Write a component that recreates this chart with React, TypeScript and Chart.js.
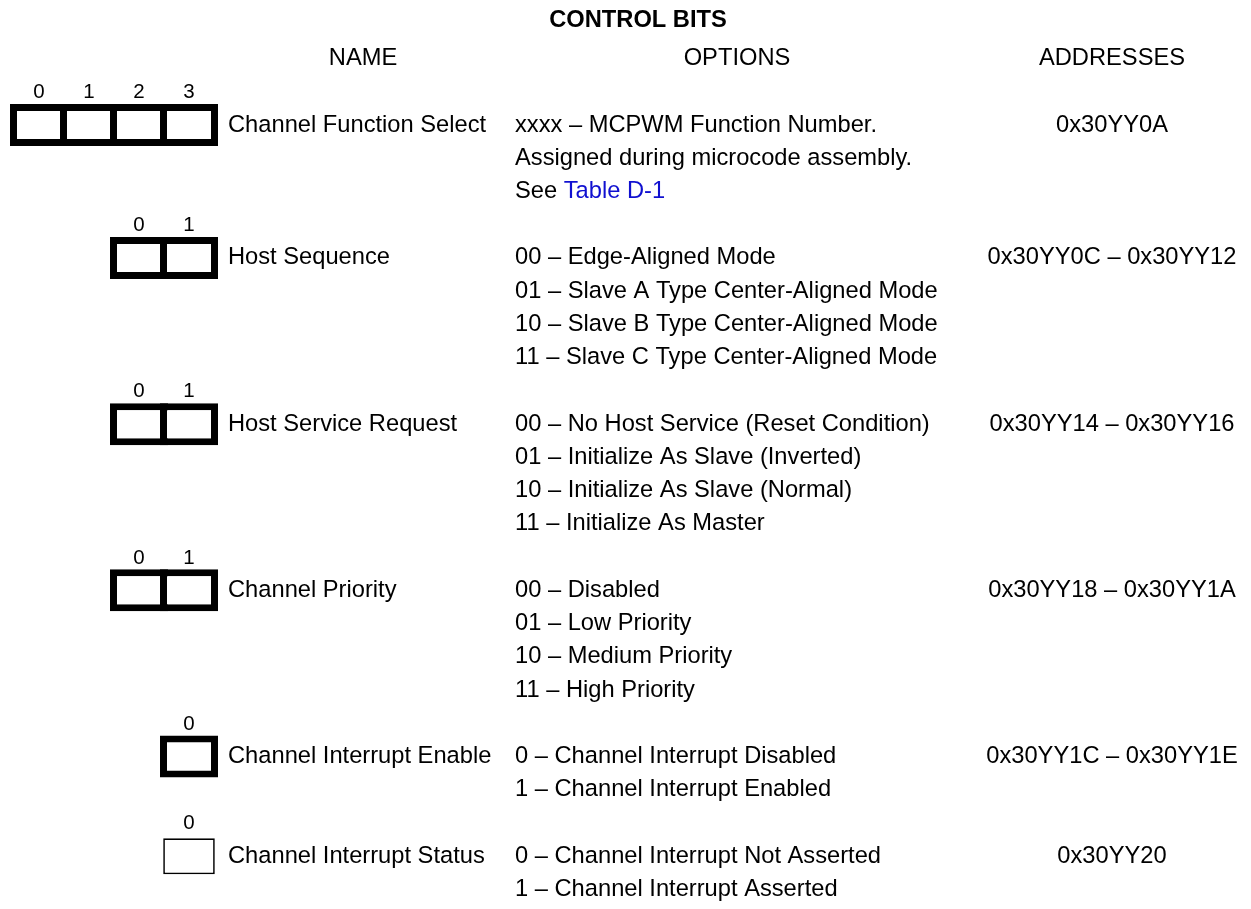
import React, { useEffect, useRef } from 'react';
import { Chart, registerables } from 'chart.js';

Chart.register(...registerables);

// ---------------- data ----------------
const chartTitle = 'CONTROL BITS';
const columnHeaders = ['NAME', 'OPTIONS', 'ADDRESSES'];

const fieldNames = [
  'Channel Function Select',
  'Host Sequence',
  'Host Service Request',
  'Channel Priority',
  'Channel Interrupt Enable',
  'Channel Interrupt Status',
];

const fieldBitCounts = [4, 2, 2, 2, 1, 1];

// host-writable fields are drawn with a heavy frame, read-only with a light one
const fieldHostWritable = [true, true, true, true, true, false];

const fieldOptions = [
  ['xxxx – MCPWM Function Number.', 'Assigned during microcode assembly.', 'See Table D-1'],
  [
    '00 – Edge-Aligned Mode',
    '01 – Slave A Type Center-Aligned Mode',
    '10 – Slave B Type Center-Aligned Mode',
    '11 – Slave C Type Center-Aligned Mode',
  ],
  [
    '00 – No Host Service (Reset Condition)',
    '01 – Initialize As Slave (Inverted)',
    '10 – Initialize As Slave (Normal)',
    '11 – Initialize As Master',
  ],
  ['00 – Disabled', '01 – Low Priority', '10 – Medium Priority', '11 – High Priority'],
  ['0 – Channel Interrupt Disabled', '1 – Channel Interrupt Enabled'],
  ['0 – Channel Interrupt Not Asserted', '1 – Channel Interrupt Asserted'],
];

const fieldAddresses = [
  '0x30YY0A',
  '0x30YY0C – 0x30YY12',
  '0x30YY14 – 0x30YY16',
  '0x30YY18 – 0x30YY1A',
  '0x30YY1C – 0x30YY1E',
  '0x30YY20',
];

const linkText = 'Table D-1';

// ---------------- layout ----------------
const W = 1251;
const H = 909;
const LINE_PX = 33.24;
const FIRST_LINE_PX = 57;
const Y_MIN = -FIRST_LINE_PX / LINE_PX;
const Y_MAX = Y_MIN + H / LINE_PX;
const TITLE_LINE = -1.15;

const MAX_BITS = 4;
const CELL_ORIGIN = 10;
const CELL_PITCH = 50;
const CELL_OUTER = 58;
const THIN_INSET = 3.2;
const BOX_SHIFT = 1.5 / LINE_PX;

const NAME_X = 228;
const OPTIONS_X = 515;
const ADDRESS_CX = 1112;
const HEADER_CX = [363, 737, 1112];
const TITLE_CX = 638;

const FONT_FAMILY = '"Liberation Sans", Arial, Helvetica, sans-serif';
const TEXT_SIZE = 23.7;
const LABEL_SIZE = 20.5;
const LINK_COLOR = '#1010d0';

type RowLayout = { labelLine: number; nameLine: number; firstCol: number };

function buildRows(): RowLayout[] {
  const rows: RowLayout[] = [];
  let line = 1;
  fieldNames.forEach((_, i) => {
    const labelLine = line;
    const nameLine = line + 1;
    rows.push({ labelLine, nameLine, firstCol: MAX_BITS - fieldBitCounts[i] });
    line = nameLine + fieldOptions[i].length;
  });
  return rows;
}

export default function App() {
  const canvasRef = useRef<HTMLCanvasElement | null>(null);

  useEffect(() => {
    const canvas = canvasRef.current;
    if (!canvas) return;
    const rows = buildRows();

    const heavy: any[] = [];
    const light: any[] = [];
    rows.forEach((r, i) => {
      for (let b = 0; b < fieldBitCounts[i]; b++) {
        const col = r.firstCol + b;
        const left = CELL_ORIGIN + col * CELL_PITCH;
        const right = left + CELL_OUTER;
        if (fieldHostWritable[i]) {
          heavy.push({ x: [left, right], y: r.nameLine + BOX_SHIFT });
        } else {
          light.push({ x: [left + THIN_INSET, right - THIN_INSET], y: r.nameLine + BOX_SHIFT });
        }
      }
    });

    const textPlugin = {
      id: 'registerText',
      afterDatasetsDraw(chart: any) {
        const ctx: CanvasRenderingContext2D = chart.ctx;
        const xs = chart.scales.x;
        const ys = chart.scales.y;
        const px = (v: number) => xs.getPixelForValue(v);
        const base = (line: number, size: number) => ys.getPixelForValue(line) + size * 0.34;
        ctx.save();
        ctx.textBaseline = 'alphabetic';
        ctx.fillStyle = '#000';

        // title
        ctx.font = `bold ${TEXT_SIZE}px ${FONT_FAMILY}`;
        ctx.textAlign = 'center';
        ctx.fillText(chartTitle, px(TITLE_CX), base(TITLE_LINE, TEXT_SIZE));

        // column headers
        ctx.font = `${TEXT_SIZE}px ${FONT_FAMILY}`;
        columnHeaders.forEach((h, i) => {
          ctx.fillText(h, px(HEADER_CX[i]), base(0, TEXT_SIZE));
        });

        rows.forEach((r, i) => {
          // bit numbers
          ctx.font = `${LABEL_SIZE}px ${FONT_FAMILY}`;
          ctx.textAlign = 'center';
          for (let b = 0; b < fieldBitCounts[i]; b++) {
            const col = r.firstCol + b;
            const cx = CELL_ORIGIN + col * CELL_PITCH + CELL_OUTER / 2;
            ctx.fillText(String(b), px(cx), base(r.labelLine, LABEL_SIZE) + 1);
          }
          ctx.font = `${TEXT_SIZE}px ${FONT_FAMILY}`;
          // name
          ctx.textAlign = 'left';
          ctx.fillText(fieldNames[i], px(NAME_X), base(r.nameLine, TEXT_SIZE));
          // options
          fieldOptions[i].forEach((opt, k) => {
            const y = base(r.nameLine + k, TEXT_SIZE);
            const idx = opt.indexOf(linkText);
            if (idx >= 0) {
              const pre = opt.slice(0, idx);
              ctx.fillStyle = '#000';
              ctx.fillText(pre, px(OPTIONS_X), y);
              const w = ctx.measureText(pre).width;
              ctx.fillStyle = LINK_COLOR;
              ctx.fillText(linkText, px(OPTIONS_X) + w, y);
              ctx.fillStyle = '#000';
            } else {
              ctx.fillText(opt, px(OPTIONS_X), y);
            }
          });
          // address
          ctx.textAlign = 'center';
          ctx.fillText(fieldAddresses[i], px(ADDRESS_CX), base(r.nameLine, TEXT_SIZE));
        });
        ctx.restore();
      },
    };

    const chart = new Chart(canvas, {
      type: 'bar',
      data: {
        datasets: [
          {
            data: heavy,
            backgroundColor: '#ffffff',
            borderColor: '#000000',
            borderWidth: 7,
            borderSkipped: false,
            barThickness: 42,
            grouped: false,
            inflateAmount: 0,
          } as any,
          {
            data: light,
            backgroundColor: '#ffffff',
            borderColor: '#000000',
            borderWidth: 1.7,
            borderSkipped: false,
            barThickness: 36,
            grouped: false,
            inflateAmount: 0,
          } as any,
        ],
      },
      options: {
        indexAxis: 'y',
        animation: false,
        responsive: false,
        devicePixelRatio: 1,
        events: [],
        layout: { padding: 0 },
        plugins: {
          legend: { display: false },
          tooltip: { enabled: false },
          title: { display: false },
        },
        scales: {
          x: { type: 'linear', min: 0, max: W, display: false, offset: false },
          y: {
            type: 'linear',
            min: Y_MIN,
            max: Y_MAX,
            reverse: true,
            display: false,
            offset: false,
            grid: { offset: false },
          },
        },
      } as any,
      plugins: [textPlugin],
    });

    return () => chart.destroy();
  }, []);

  return (
    <div style={{ position: 'fixed', left: 0, top: 0, width: W, height: H, background: '#fff' }}>
      <canvas ref={canvasRef} width={W} height={H} style={{ width: W, height: H, display: 'block' }} />
    </div>
  );
}
